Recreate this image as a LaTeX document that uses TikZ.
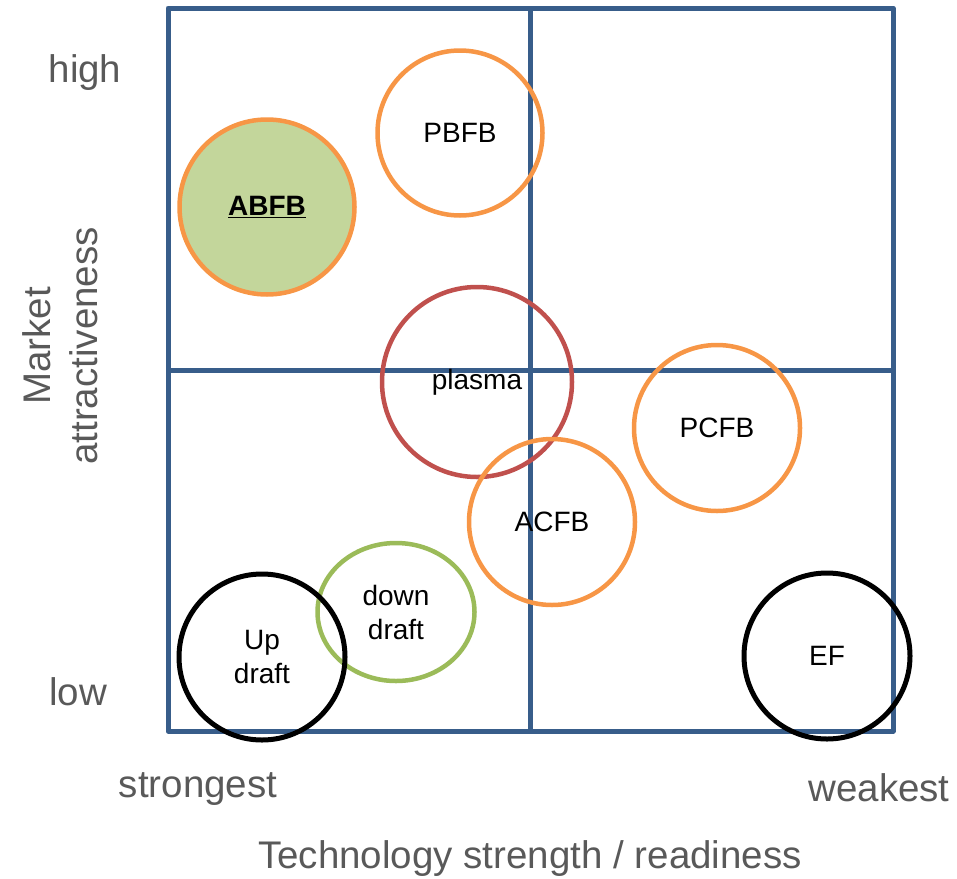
\documentclass[tikz,border=0pt]{standalone}
\usepackage{fontspec}
\setmainfont{Liberation Sans}
\usetikzlibrary{positioning,shapes.geometric}

\definecolor{gridblue}{HTML}{385D8A}
\definecolor{techorange}{HTML}{F79646}
\definecolor{techred}{HTML}{C0504D}
\definecolor{techgreen}{HTML}{9BBB59}
\definecolor{techfill}{HTML}{C3D69B}
\definecolor{axisgray}{HTML}{595959}

\tikzset{
  tech/.style={circle, draw, line width=4.5pt, align=center, inner sep=0pt,
               font=\fontsize{28}{34}\selectfont},
  axislabel/.style={text=axisgray, align=center, inner sep=0pt,
                    font=\fontsize{38.5}{47}\selectfont},
}

\begin{document}
\begin{tikzpicture}[x=1pt, y=-1pt]
    \useasboundingbox (0,0) rectangle (957,878);

    % Quadrant grid
    \coordinate (nw) at (168,8);   \coordinate (ne) at (893,8);
    \coordinate (sw) at (168,731); \coordinate (se) at (893,731);
    \coordinate (tmid) at (530,8);  \coordinate (bmid) at (530,731);
    \coordinate (lmid) at (168,370); \coordinate (rmid) at (893,370);
    \draw[gridblue, line width=5pt, line join=round] (nw) rectangle (se);
    \draw[gridblue, line width=5pt] (tmid) -- (bmid);
    \draw[gridblue, line width=5pt] (lmid) -- (rmid);

    % Axis labels
    \node[axislabel] (high) at (85,73) {high};
    \node[axislabel] (low) at (78,692) {low};
    \node[axislabel, rotate=90] (market) at (60,346) {Market\\attractiveness};
    \node[axislabel] (strong) at (198,789) {strongest};
    \node[axislabel] (weak) at (879,788) {weakest};
    \node[axislabel] (techaxis) at (530,859) {Technology strength / readiness};

    % Technologies
    \node[tech, draw=techorange, fill=techfill, minimum size=175pt] (abfb) at (267,207)
        {\underline{\textbf{ABFB}}};
    \node[tech, draw=techorange, minimum size=165pt] (pbfb) at (460,133) {PBFB};
    \node[tech, draw=techred, minimum size=190pt] (plasma) at (477,382) {plasma};
    \node[tech, draw=techorange, minimum size=166pt] (acfb) at (552,522) {ACFB};
    \node[tech, draw=techorange, minimum size=166pt] (pcfb) at (717,428) {PCFB};
    \node[tech, ellipse, draw=techgreen, minimum width=157pt, minimum height=138pt]
        (down) at (396,612) {down\\draft};
    \node[tech, draw=black, line width=5pt, minimum size=166pt] (up) at (262,657)
        {Up\\draft};
    \node[tech, draw=black, line width=5pt, minimum size=166pt] (ef) at (827,656) {EF};
\end{tikzpicture}
\end{document}
